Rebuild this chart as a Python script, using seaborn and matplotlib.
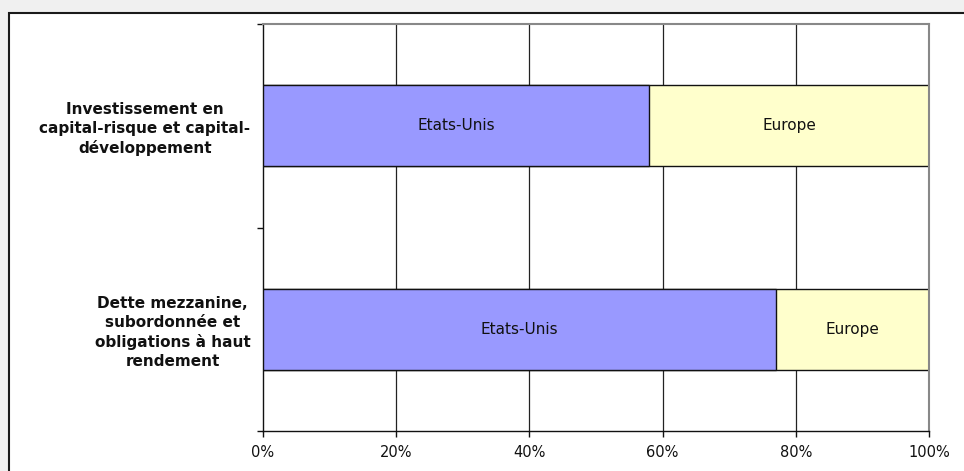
import pandas as pd
import numpy as np
import seaborn as sns
import matplotlib.pyplot as plt
from matplotlib.patches import Rectangle

categories = ['Investissement en\ncapital-risque et capital-\ndéveloppement',
              'Dette mezzanine,\nsubordonnée et\nobligations à haut\nrendement']
etats_unis = [58, 77]
europe = [42, 23]
xticks = [0, 20, 40, 60, 80, 100]
xtick_labels = ['0%', '20%', '40%', '60%', '80%', '100%']

df = pd.DataFrame({'cat': categories, 'us': etats_unis, 'eu': europe})
df['total'] = df['us'] + df['eu']

sns.set_style('white')
plt.rcParams['font.family'] = ['DejaVu Sans']

fig = plt.figure(figsize=(9.64, 4.71), dpi=100, facecolor='#f0f0f0')
# white chart area with black frame (runs off the right and bottom edge)
fig.patches.append(Rectangle((9 / 964, -0.05), 1.0, 1 - 13 / 471 + 0.05,
                             transform=fig.transFigure, facecolor='white',
                             edgecolor='#1a1a1a', linewidth=1.5, zorder=-1))
ax = fig.add_axes([263 / 964, 1 - 431 / 471, 666 / 964, 407 / 471])
ax.set_facecolor('white')

# vertical grid
for x in xticks[1:-1]:
    ax.axvline(x, color='#222222', linewidth=0.9, zorder=0)

# stacked: full bar in Europe colour, then Etats-Unis on top
sns.barplot(data=df, x='total', y='cat', orient='h', color='#ffffcc',
            width=0.4, edgecolor='#111111', linewidth=1.0, ax=ax,
            saturation=1, zorder=2)
sns.barplot(data=df, x='us', y='cat', orient='h', color='#9999ff',
            width=0.4, edgecolor='#111111', linewidth=1.0, ax=ax,
            saturation=1, zorder=3)

for i in range(len(df)):
    ax.text(df['us'][i] / 2, i, 'Etats-Unis', ha='center', va='center',
            fontsize=11, color='#111111', zorder=4)
    ax.text(df['us'][i] + df['eu'][i] / 2, i, 'Europe', ha='center',
            va='center', fontsize=11, color='#111111', zorder=4)

ax.set_xlim(0, 100)
ax.set_ylim(1.5, -0.5)
ax.set_xticks(xticks)
ax.set_xticklabels(xtick_labels, fontsize=10.5, color='#111111')
ax.set_yticks([0, 1])
ax.set_yticklabels(categories, fontsize=11, fontweight='bold', color='#111111')
for t in ax.get_yticklabels():
    t.set_multialignment('center')
    t.set_linespacing(1.3)
ax.set_yticks([-0.5, 0.5, 1.5], minor=True)
ax.tick_params(axis='y', which='major', length=0, pad=9)
ax.tick_params(axis='y', which='minor', length=4, width=1, color='#111111',
               direction='out', left=True)
ax.tick_params(axis='x', length=4, width=1, color='#111111', direction='out',
               bottom=True, pad=6)
ax.set_xlabel('')
ax.set_ylabel('')

for s in ['left', 'bottom']:
    ax.spines[s].set_color('#111111')
    ax.spines[s].set_linewidth(1.0)
for s in ['top', 'right']:
    ax.spines[s].set_color('#888888')
    ax.spines[s].set_linewidth(1.5)
    ax.spines[s].set_visible(True)

fig.savefig('out.png', dpi=100, facecolor=fig.get_facecolor())
